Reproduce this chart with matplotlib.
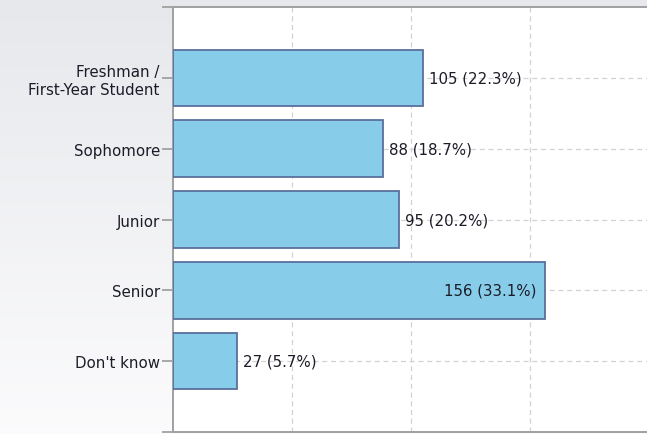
import numpy as np
import matplotlib
matplotlib.use("Agg")
import matplotlib.pyplot as plt

categories = ["Freshman /\nFirst-Year Student", "Sophomore", "Junior", "Senior", "Don't know"]
counts = [105, 88, 95, 156, 27]
percents = [22.3, 18.7, 20.2, 33.1, 5.7]

plt.rcParams["font.family"] = ["DejaVu Sans"]

fig = plt.figure(figsize=(6.47, 4.35), dpi=100)

# soft vertical gradient behind everything
bg = fig.add_axes([0, 0, 1, 1], zorder=-10)
grad = np.linspace(0, 1, 256).reshape(-1, 1)
top = np.array([0.905, 0.910, 0.925])
bot = np.array([0.985, 0.985, 0.99])
rgb = top[None, None, :] + (bot - top)[None, None, :] * grad[:, :, None]
bg.imshow(rgb, aspect="auto", extent=[0, 1, 0, 1], origin="upper")
bg.set_axis_off()

ax = fig.add_axes([0.2674, 0.0046, 0.7326, 0.977])
ax.set_facecolor("white")

y = np.arange(len(categories))
ax.barh(y, counts, height=0.8, color="#87CDEA", edgecolor="#5b6f9c",
        linewidth=1.3, zorder=3)

ax.set_xlim(0, 199)
ax.set_ylim(len(categories), -1)

ax.set_xticks([50, 100, 150])
ax.tick_params(axis="x", length=0, labelbottom=False)
ax.set_yticks(y)
ax.set_yticklabels(categories, fontsize=10.8, color="#1c1c28", linespacing=1.25)
ax.set_yticks([-1, len(categories)], minor=True)
ax.tick_params(axis="y", which="both", length=8, width=1.2, color="#9a9a9a", pad=1.5)

ax.grid(True, axis="both", linestyle=(0, (4, 3)), color="#d2d2d2", linewidth=0.9, zorder=0)
ax.set_axisbelow(True)

for s in ["left", "top", "bottom"]:
    ax.spines[s].set_color("#a0a0a0")
    ax.spines[s].set_linewidth(1.4)
ax.spines["right"].set_visible(False)

for yi, c, p in zip(y, counts, percents):
    label = f"{c} ({p}%)"
    if c > 140:
        ax.text(c - 3.5, yi, label, ha="right", va="center", fontsize=10.8,
                color="#1c1c28", zorder=4)
    else:
        ax.text(c + 2.5, yi, label, ha="left", va="center", fontsize=10.8,
                color="#1c1c28", zorder=4)

fig.savefig("out.png", dpi=100)
